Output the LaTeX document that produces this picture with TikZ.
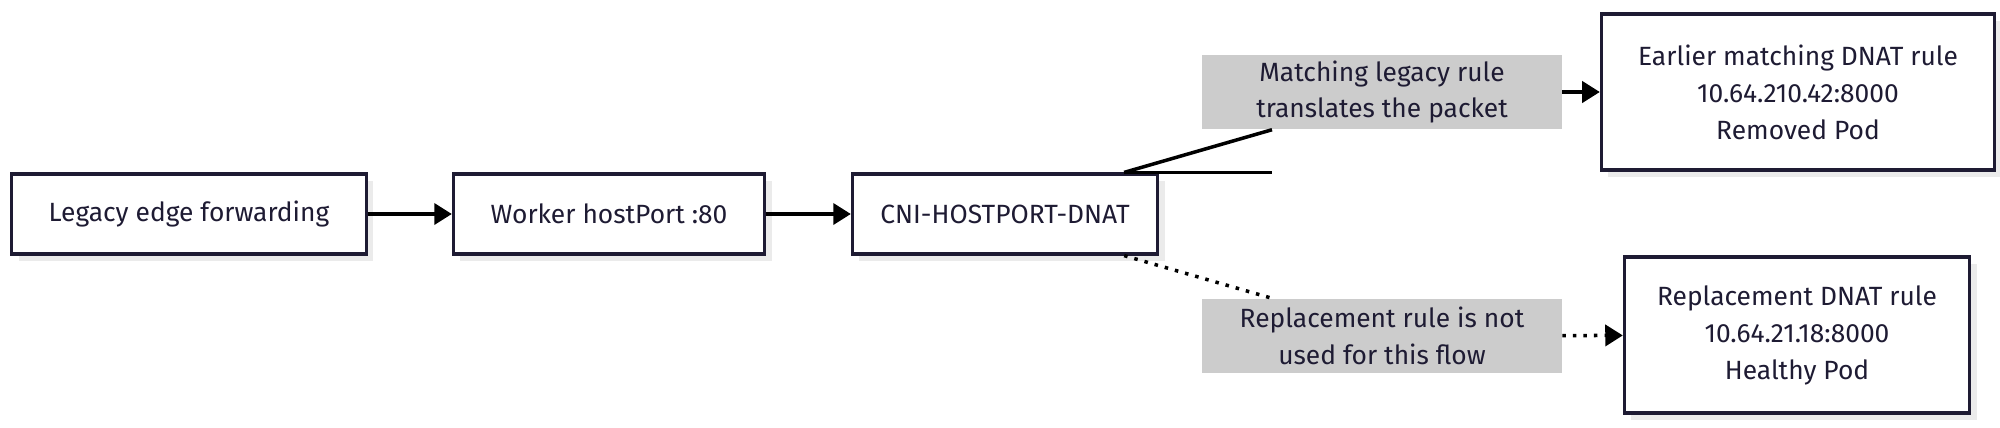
\documentclass[tikz,border=0pt]{standalone}
\usepackage{fontspec}
\setmainfont{Fira Sans}
\usetikzlibrary{arrows.meta,shadows}
\definecolor{ink}{HTML}{1E1B33}
\definecolor{tag}{HTML}{CCCCCC}
\begin{document}
\begin{tikzpicture}[x=0.01cm,y=-0.01cm,
		font=\fontsize{7.5}{10.5}\selectfont\color{ink},
		box/.style={draw=ink, line width=0.9pt, fill=white, align=center, inner sep=0pt,
			drop shadow={shadow xshift=0.07cm, shadow yshift=-0.07cm, fill=black!8, opacity=1}},
		tag/.style={fill=tag, align=center, minimum width=3.59cm, minimum height=0.74cm, inner sep=0pt},
		flow/.style={line width=1pt, -{Triangle[length=5pt,width=6pt]}},
		link/.style={line width=1pt}]

		\useasboundingbox (0,0) rectangle (2000,427);

		\node[box, minimum width=3.54cm, minimum height=0.8cm] (edge) at (189,214) {Legacy edge forwarding};
		\node[box, minimum width=3.11cm, minimum height=0.8cm] (worker) at (609,214) {Worker hostPort :80};
		\node[box, minimum width=3.05cm, minimum height=0.8cm] (chain) at (1005,214) {CNI-HOSTPORT-DNAT};
		\node[box, minimum width=3.93cm, minimum height=1.56cm] (old) at (1798,92) {Earlier matching DNAT rule\\10.64.210.42:8000\\Removed Pod};
		\node[box, minimum width=3.45cm, minimum height=1.56cm] (new) at (1797,335) {Replacement DNAT rule\\10.64.21.18:8000\\Healthy Pod};

		\node[tag] (hit) at (1382,92) {Matching legacy rule\\translates the packet};
		\node[tag] (miss) at (1382,336) {Replacement rule is not\\used for this flow};

		\draw[flow] (edge) -- (worker);
		\draw[flow] (worker) -- (chain);

		% matching path
		\draw[link] (chain.north east) ++(-35,0) coordinate (c1) -- (c1 -| 1272,0) ++(0,0);
		\draw[link] (c1) -- (hit.south -| 1272,0) coordinate (h1);
		\draw[flow] (hit) -- (old);

		% unused path
		\draw[link, dotted] (chain.south east) ++(-35,0) coordinate (c2) -- (miss.north -| 1272,0);
		\draw[flow, dotted] (miss) -- (new);
\end{tikzpicture}
\end{document}
